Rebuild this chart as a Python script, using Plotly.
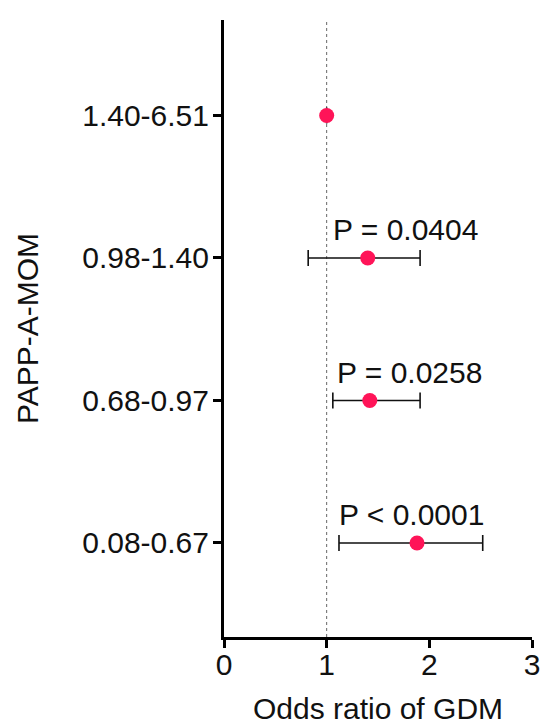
import plotly.graph_objects as go

categories = ["1.40-6.51", "0.98-1.40", "0.68-0.97", "0.08-0.67"]
odds_ratio = [1.00, 1.40, 1.42, 1.88]
ci_low = [1.00, 0.82, 1.06, 1.12]
ci_high = [1.00, 1.91, 1.91, 2.52]
p_labels = ["", "P = 0.0404", "P = 0.0258", "P < 0.0001"]

ypos = [4, 3, 2, 1]
FONT = dict(family="Liberation Sans, Arial, sans-serif", size=30, color="#111111")

fig = go.Figure()
fig.add_shape(type="line", x0=1, x1=1, y0=0, y1=1, xref="x", yref="paper",
              line=dict(color="#666666", width=1, dash="dot"), layer="below")

fig.add_trace(go.Scatter(
    x=odds_ratio, y=ypos, mode="markers",
    marker=dict(color="#FF1458", size=15),
    error_x=dict(type="data", symmetric=False,
                 array=[h - o for h, o in zip(ci_high, odds_ratio)],
                 arrayminus=[o - l for o, l in zip(odds_ratio, ci_low)],
                 color="#111111", thickness=1.6, width=8),
    showlegend=False, hoverinfo="skip",
))

# P-value labels: centered above each interval
label_x = [None, 1.77, 1.81, 1.83]
for lx, y, t in zip(label_x, ypos, p_labels):
    if t:
        fig.add_annotation(x=lx, y=y, text=t, showarrow=False, yshift=28,
                           font=FONT, xanchor="center", yanchor="middle")

fig.update_layout(
    width=543, height=725,
    margin=dict(l=224, r=11, t=20, b=88),
    paper_bgcolor="white", plot_bgcolor="white",
    font=FONT,
    xaxis=dict(range=[0, 3], tickvals=[0, 1, 2, 3], showgrid=False, zeroline=False,
               showline=True, linecolor="black", linewidth=3, automargin=False,
               ticks="outside", ticklen=8, tickwidth=2.5, tickcolor="black",
               tickfont=FONT, ticklabelstandoff=-9,
               title=dict(text="Odds ratio of GDM", font=FONT, standoff=25)),
    yaxis=dict(range=[0.34, 4.67], tickvals=ypos, ticktext=categories,
               showgrid=False, zeroline=False, automargin=False,
               showline=True, linecolor="black", linewidth=3,
               ticks="outside", ticklen=8, tickwidth=2.5, tickcolor="black",
               tickfont=FONT, ticklabelstandoff=-2,
               title=dict(text="PAPP-A-MOM", font=FONT, standoff=35)),
)

fig.write_html("out.html", config={"displayModeBar": False},
               post_script="document.body.style.margin='0';")
